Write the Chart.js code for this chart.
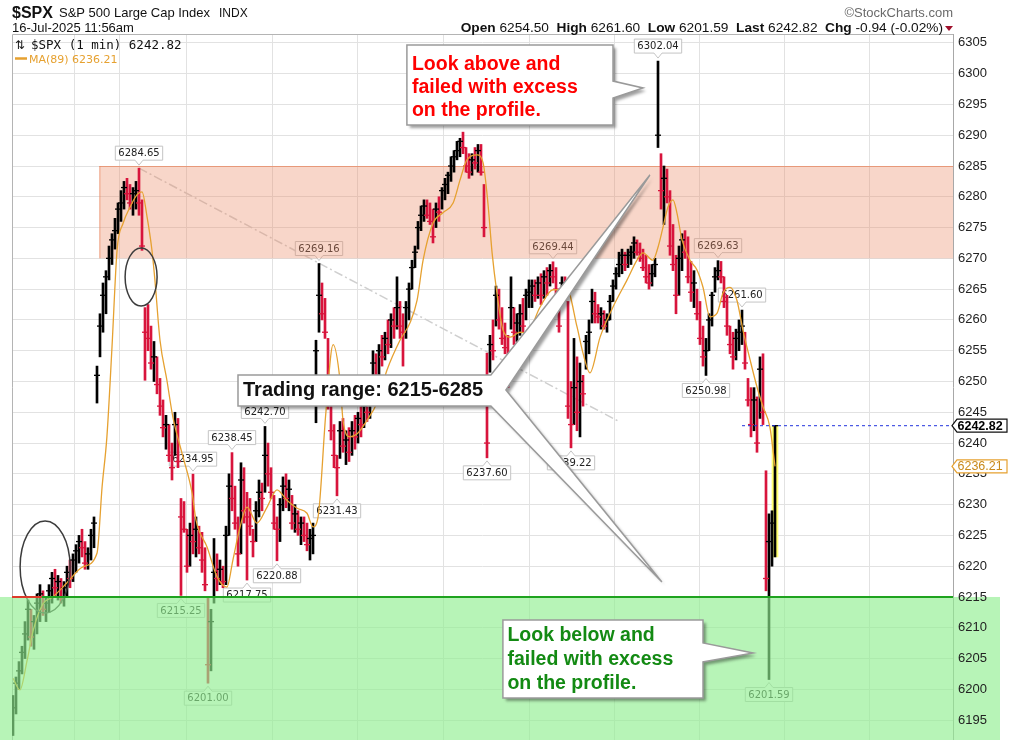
<!DOCTYPE html>
<html>
<head>
<meta charset="utf-8">
<script src="https://cdn.jsdelivr.net/npm/chart.js@4.4.1/dist/chart.umd.min.js"></script>
<style>
  html, body { margin: 0; padding: 0; background: #fff; overflow: hidden; }
</style>
</head>
<body>
<canvas id="spx" width="1026" height="740"></canvas>
<script>
// 1-minute bars (one bar per index)
const lows = [
  6192.5, 6196, 6200, 6202.5, 6205, 6208, 6207, 6206.5, 6209, 6211,
  6212, 6211, 6212.5, 6214, 6215, 6214.5, 6214, 6213.5, 6215, 6216.5,
  6217.5, 6219, 6220.5, 6221.5, 6219.5, 6219.5, 6221, 6223, 6246.5, 6254,
  6258, 6261, 6266.5, 6269, 6271.5, 6274, 6276, 6278, 6279.5, 6278,
  6277, 6278, 6277, 6271.3, 6250.2, 6255, 6252, 6250, 6248, 6244.5,
  6241, 6239, 6237, 6234, 6238, 6236, 6215.25, 6225.5, 6219, 6220,
  6222, 6221.5, 6222, 6219, 6216, 6201, 6203, 6214, 6216, 6217,
  6216.5, 6217, 6225, 6229, 6226, 6220, 6222, 6227, 6217.75, 6225,
  6221.5, 6224, 6228, 6229, 6232, 6233, 6231, 6226, 6220.88, 6224,
  6229, 6229.5, 6229, 6226, 6225.5, 6225, 6223.5, 6224, 6222.5, 6221,
  6222, 6243.3, 6258, 6260, 6257, 6245.5, 6240.5, 6236, 6231.43, 6237.5,
  6238.5, 6236.5, 6237, 6238, 6239, 6240, 6241, 6242.5, 6243.5, 6244,
  6250, 6249, 6251, 6252.5, 6253.5, 6254.5, 6255.5, 6257, 6258.5, 6257,
  6252.5, 6257, 6260, 6265, 6268.5, 6271.5, 6274.5, 6276, 6276.5, 6275.5,
  6272.5, 6275, 6276, 6278, 6279.5, 6280.5, 6282.5, 6284, 6286, 6286.5,
  6287, 6284, 6283, 6283.5, 6284.5, 6284, 6283.5, 6273.5, 6237.6, 6251.5,
  6253.5, 6259, 6258.5, 6256, 6254.5, 6249, 6258.5, 6256, 6256.5, 6257.5,
  6258, 6260, 6262, 6262, 6263, 6263.5, 6262.5, 6263.5, 6264, 6265.5,
  6266, 6264, 6258, 6264, 6263, 6244, 6239.22, 6243, 6242, 6241,
  6246, 6252, 6254.5, 6259.5, 6259.5, 6259.5, 6258.5, 6258.5, 6258, 6260,
  6263, 6265, 6267, 6267.5, 6268, 6268.5, 6269, 6270, 6270.5, 6269.5,
  6268, 6266, 6265, 6265.5, 6267, 6288, 6278, 6275.5, 6279, 6270.5,
  6268, 6261, 6264, 6268, 6270, 6266, 6263, 6262, 6260, 6256,
  6252.5, 6250.98, 6255, 6259, 6264.5, 6266.5, 6266, 6262, 6257.5, 6254.5,
  6252, 6253.5, 6255, 6256, 6252, 6246, 6241, 6242, 6238.5, 6244,
  6243, 6216, 6201.59, 6220, 6221.5
];
const highs = [
  6199, 6202, 6204.5, 6207, 6211, 6214.5, 6213, 6212, 6215.5, 6217,
  6216, 6215, 6217, 6219, 6219.5, 6218.5, 6218, 6217.5, 6220, 6221,
  6222, 6223.5, 6225, 6226, 6224, 6223, 6226, 6228, 6252.5, 6261,
  6266, 6268, 6272, 6274, 6276.5, 6279, 6281, 6282.5, 6283, 6282,
  6281.5, 6282.5, 6284.65, 6279.5, 6262, 6262.5, 6259, 6256.5, 6254, 6250.5,
  6247, 6244.5, 6243, 6240, 6245, 6244, 6231, 6230.5, 6226, 6227,
  6234.95, 6228, 6226.5, 6225.5, 6223, 6215, 6213, 6224.5, 6222, 6221,
  6220, 6226.5, 6235, 6238.45, 6233, 6228, 6236.8, 6236, 6232, 6231,
  6226, 6230.5, 6234, 6233.5, 6242.7, 6240, 6236, 6231.5, 6228, 6231,
  6234.5, 6235, 6234, 6231.5, 6230, 6229, 6228, 6228, 6227, 6226,
  6227, 6256.7, 6269.16, 6266, 6263.5, 6257, 6246, 6243, 6238, 6243.5,
  6244, 6242, 6242.5, 6243.5, 6244.5, 6245, 6246, 6247, 6248, 6249,
  6255, 6254.5, 6256, 6257.5, 6258, 6260, 6261, 6262, 6267, 6263,
  6261, 6263, 6266, 6269.7, 6272, 6276, 6278.5, 6279.5, 6279.5, 6279,
  6278, 6279, 6280, 6281.5, 6283, 6284, 6286.5, 6287.5, 6289, 6289.5,
  6290.5, 6288, 6287, 6287, 6288, 6288.5, 6288.5, 6282, 6254.6, 6257.5,
  6260, 6265.5, 6265, 6262, 6259.5, 6257.5, 6267, 6262, 6261, 6262.5,
  6263.5, 6265, 6266.5, 6266.5, 6266.5, 6267, 6267.5, 6268, 6268.5, 6269,
  6269.44, 6268.5, 6263, 6267, 6267, 6263, 6250, 6257, 6254, 6253,
  6251, 6257.5, 6260, 6265, 6264.5, 6262.5, 6262, 6261.5, 6261, 6264,
  6266.5, 6268.5, 6271, 6271.5, 6271, 6271.5, 6272, 6273.5, 6273, 6272.5,
  6271.5, 6270.5, 6269, 6269, 6270, 6302.04, 6287, 6285, 6284.5, 6281,
  6275.5, 6270.5, 6272, 6274, 6274.5, 6273.5, 6269.5, 6268, 6265, 6263,
  6259, 6257, 6261, 6264.5, 6268.5, 6269.63, 6269.5, 6267, 6264, 6259,
  6258, 6258.5, 6260, 6261.6, 6258, 6250.5, 6249, 6249, 6247.5, 6254,
  6254.5, 6235.5, 6228.5, 6229, 6242.82
];
const closes = [
  6197, 6201, 6203, 6206, 6209, 6213, 6208.5, 6211, 6214, 6215.5,
  6213, 6214, 6216, 6218, 6216.5, 6217.5, 6215, 6216.5, 6219, 6218,
  6221, 6222.5, 6224, 6223, 6220.5, 6222, 6225, 6227, 6251, 6259,
  6264, 6267, 6270, 6273, 6274.5, 6278, 6279, 6281.5, 6280.5, 6279,
  6280.5, 6281, 6279, 6272, 6258, 6257, 6253, 6254, 6249.5, 6246,
  6242.5, 6243, 6238, 6236, 6243, 6237, 6228, 6226, 6220, 6225,
  6224, 6226, 6223, 6221, 6217, 6204, 6211, 6219, 6218, 6219.5,
  6217.5, 6225, 6233, 6231, 6227, 6222, 6234, 6229, 6228, 6226.5,
  6224, 6229, 6232, 6231, 6238, 6235, 6232, 6227, 6226, 6230,
  6233, 6231, 6232.5, 6227, 6228.5, 6226, 6227, 6225, 6223.5, 6224.5,
  6225, 6255, 6264, 6261, 6258, 6247, 6242, 6238, 6236, 6242,
  6239.5, 6240.5, 6238.5, 6242, 6241, 6244, 6243, 6246, 6245, 6248,
  6253, 6251, 6255, 6254, 6257, 6256, 6260, 6259, 6262, 6259,
  6258, 6262, 6265, 6268.5, 6271, 6275, 6277, 6278.5, 6277, 6276,
  6273.5, 6278, 6277.5, 6281, 6282, 6283.5, 6285, 6286.5, 6287.5, 6289,
  6288, 6285, 6284, 6286, 6285.5, 6287.5, 6284, 6275, 6240, 6256,
  6255, 6264, 6260, 6257, 6255.5, 6251, 6262, 6258, 6259.5, 6261,
  6259, 6264, 6264.5, 6265.5, 6264, 6266, 6264, 6267, 6266, 6268,
  6267, 6265, 6259, 6266, 6264, 6246, 6243, 6249, 6245, 6250,
  6248, 6256.5, 6258, 6263, 6261, 6260.5, 6261, 6259, 6260, 6263,
  6265.5, 6267.5, 6269, 6270.5, 6269, 6270.5, 6271, 6272.5, 6271, 6270,
  6268.5, 6267, 6266, 6267.5, 6269, 6290, 6281, 6283, 6280, 6272,
  6269, 6264, 6270, 6273, 6271, 6267, 6264.5, 6266, 6261, 6257,
  6254, 6255, 6260, 6264, 6267, 6268, 6267, 6263, 6259, 6256,
  6254, 6257, 6258, 6259, 6253, 6247, 6243, 6247, 6240, 6252,
  6245, 6218, 6224, 6227, 6242.82
];

// MA(89) (bar index, value)
const maX = [0, 2.3, 4.7, 6.7, 10, 13.3, 18, 23.3, 28, 29.7, 31.3, 33, 34.7, 36.7, 39, 41.3, 43, 44.7, 46.3, 47.3,
  49, 51.3, 53.3, 56.3, 59.7, 61, 64.7, 68, 71.3, 73.3, 75.7, 78, 81.3, 84.7, 88, 91.3, 94.7, 98, 100, 101.7,
  104.3, 106.7, 109, 110, 112.3, 114.7, 118, 121.3, 124.7, 129, 132.3, 134.7, 136.7, 140, 143.3, 146.7, 149, 151.3, 154.7, 156.7,
  158.3, 159.7, 161.3, 163.3, 165.7, 169, 171.3, 175.7, 180, 184.7, 188, 190, 192.3, 195.7, 200, 204.7, 208, 210, 213.3, 215,
  216.7, 218.3, 220, 221.3, 223, 225.7, 228, 230, 232.3, 234.7, 236.7, 239, 241.3, 243.3, 245.7, 248, 250, 252.3, 254];
const maY = [6201.8, 6199.9, 6204.7, 6209.5, 6213.9, 6215, 6217.3, 6219.9, 6222.1, 6232.9, 6241, 6255.6, 6271.4, 6275.7, 6278.3, 6280.3, 6280.8, 6276.7, 6271.4, 6266.5,
  6256.7, 6250.2, 6244.2, 6238.4, 6231.9, 6227.5, 6223.1, 6218.3, 6216.6, 6221, 6226.4, 6229.6, 6227, 6229.6, 6232.4, 6230.7, 6229.4, 6228.6, 6226.4, 6228,
  6245, 6256, 6250.2, 6243.7, 6241, 6241.5, 6243.7, 6246.5, 6251.9, 6256.7, 6259.5, 6263.2, 6269.7, 6275.7, 6277.4, 6279, 6282.7, 6286, 6286.8, 6285.5,
  6279, 6270.9, 6264.4, 6258.4, 6257.2, 6258, 6257.9, 6262.1, 6264.9, 6264.9, 6258.9, 6254.6, 6251.4, 6257.2, 6262.1, 6266.5, 6269.7, 6270.9, 6269.7, 6271.8,
  6275.1, 6278.3, 6279.5, 6277.4, 6273, 6269.7, 6268.1, 6265.3, 6260.5, 6261.1, 6264.4, 6265.3, 6263.2, 6258.4, 6253.5, 6249.1, 6245.9, 6242.6, 6236.21];

const yTicks = [6195, 6200, 6205, 6210, 6215, 6220, 6225, 6230, 6235, 6240, 6245, 6250, 6255,
  6260, 6265, 6270, 6275, 6280, 6285, 6290, 6295, 6300, 6305];
const timeGrid = [28, 43.33, 72.33, 100.67, 129.33, 158, 186.33, 214.67, 243, 271.33, 300];

// labelled swing highs / lows (bar indices)
const tagHi = [42, 60, 73, 84, 102, 180, 215, 235, 243];
const tagLo = [56, 65, 78, 88, 108, 158, 186, 231, 252];

const support = 6215;
const resistance = 6285;
const resistanceLow = 6270;

const statNames = ['Open', 'High', 'Low', 'Last', 'Chg'];
const statValues = ['6254.50', '6261.60', '6201.59', '6242.82', '-0.94 (-0.02%)'];

const upColor = '#000000';
const downColor = '#d8143c';
const maColor = '#e6a130';
const barColors = closes.map((c, i) => (i === 0 || c >= closes[i - 1]) ? upColor : downColor);
const last = closes.length - 1;

// annotation shapes, in (bar index, price)
const callouts = [
  {
    outline: [[131.3, 6304.65], [200, 6304.65], [200, 6298.8], [210, 6297.67], [200, 6296.04], [200, 6291.66], [131.3, 6291.66]],
    lines: ['Look above and', 'failed with excess', 'on the profile.'],
    color: '#ff0000', size: 19.5, dx: 5, dy: 24.5, lh: 23.3
  },
  {
    outline: [[75, 6251.05], [159.3, 6251.05], [212.3, 6283.54], [164.3, 6248.62], [216.3, 6217.43], [159.3, 6246.02], [75, 6246.02]],
    lines: ['Trading range: ' + support + '-' + resistance],
    color: '#111111', size: 20, dx: 5, dy: 21, lh: 0
  },
  {
    outline: [[163.3, 6211.26], [230, 6211.26], [230, 6207.53], [246.7, 6205.9], [230, 6204.44], [230, 6198.59], [163.3, 6198.59]],
    lines: ['Look below and', 'failed with excess', 'on the profile.'],
    color: '#138a13', size: 19.5, dx: 4.5, dy: 20.5, lh: 24
  }
];
const ellipses = [
  { i: 42.7, p: 6266.97, ri: 5.33, rp: 4.71 },
  { i: 10.7, p: 6219.87, ri: 8.33, rp: 7.47 }
];
const trendEnd = { i: 202.3, p: 6243.42 };

function valueTag(c, X, Y, i, v, above) {
  const x = X.getPixelForValue(i);
  const yv = Y.getPixelForValue(v);
  const txt = v.toFixed(2);
  c.font = '10px "DejaVu Sans"';
  const w = c.measureText(txt).width + 6, h = 14;
  const tip = above ? yv - 3 : yv + 3;
  const top = above ? tip - 5 - h : tip + 5;
  const L = x - w / 2, R = x + w / 2;
  c.beginPath();
  if (above) {
    c.moveTo(L, top); c.lineTo(R, top); c.lineTo(R, top + h); c.lineTo(x + 4, top + h);
    c.lineTo(x, tip); c.lineTo(x - 4, top + h); c.lineTo(L, top + h);
  } else {
    c.moveTo(L, top); c.lineTo(x - 4, top); c.lineTo(x, tip); c.lineTo(x + 4, top);
    c.lineTo(R, top); c.lineTo(R, top + h); c.lineTo(L, top + h);
  }
  c.closePath();
  c.fillStyle = 'rgba(255,255,255,0.92)';
  c.fill();
  c.strokeStyle = '#c4c4c4';
  c.lineWidth = 1;
  c.stroke();
  c.fillStyle = '#222';
  c.textAlign = 'center';
  c.textBaseline = 'middle';
  c.fillText(txt, x, top + h / 2 + 0.5);
}

const overlay = {
  id: 'overlay',
  beforeDatasetsDraw(chart) {
    const c = chart.ctx, X = chart.scales.x, Y = chart.scales.y, a = chart.chartArea;
    c.save();
    // frame
    c.strokeStyle = '#b4b4b4';
    c.lineWidth = 1;
    c.beginPath();
    c.moveTo(a.left + 0.5, a.bottom); c.lineTo(a.left + 0.5, a.top + 0.5); c.lineTo(a.right, a.top + 0.5);
    c.stroke();
    // dash-dot trend line from the first high
    c.strokeStyle = '#cfcfcf';
    c.lineWidth = 1.5;
    c.setLineDash([9, 3, 2, 3]);
    c.beginPath();
    c.moveTo(X.getPixelForValue(42), Y.getPixelForValue(highs[42]));
    c.lineTo(X.getPixelForValue(trendEnd.i), Y.getPixelForValue(trendEnd.p));
    c.stroke();
    c.setLineDash([]);
    // price tags on swings
    tagHi.forEach(i => valueTag(c, X, Y, i, highs[i], true));
    tagLo.forEach(i => valueTag(c, X, Y, i, lows[i], false));
    // resistance band
    const x0 = X.getPixelForValue(28.8);
    const t = Y.getPixelForValue(resistance), b = Y.getPixelForValue(resistanceLow);
    c.fillStyle = 'rgba(235,140,105,0.36)';
    c.fillRect(x0, t, a.right - x0, b - t);
    c.strokeStyle = 'rgba(232,130,90,0.65)';
    c.lineWidth = 1;
    c.beginPath();
    c.moveTo(x0, t + 0.5); c.lineTo(a.right, t + 0.5);
    c.moveTo(x0 + 0.5, t); c.lineTo(x0 + 0.5, b);
    c.stroke();
    c.restore();
  },
  afterDatasetsDraw(chart) {
    const c = chart.ctx, X = chart.scales.x, Y = chart.scales.y, a = chart.chartArea;
    c.save();
    // ellipses
    c.strokeStyle = '#3c3c3c';
    c.lineWidth = 1.5;
    ellipses.forEach(e => {
      const cx = X.getPixelForValue(e.i), cy = Y.getPixelForValue(e.p);
      const rx = X.getPixelForValue(e.i + e.ri) - cx, ry = cy - Y.getPixelForValue(e.p + e.rp);
      c.beginPath();
      c.ellipse(cx, cy, rx, ry, 0, 0, Math.PI * 2);
      c.stroke();
    });
    // last price dashed line
    const yl = Y.getPixelForValue(closes[last]);
    c.strokeStyle = '#2233dd';
    c.lineWidth = 1;
    c.setLineDash([3, 3]);
    c.beginPath();
    c.moveTo(X.getPixelForValue(243), yl); c.lineTo(a.right, yl);
    c.stroke();
    c.setLineDash([]);
    // support zone
    const ys = Y.getPixelForValue(support);
    c.fillStyle = 'rgba(144,238,144,0.65)';
    c.fillRect(0, ys, 1000, a.bottom - ys);
    c.lineWidth = 2;
    c.strokeStyle = '#dd3a2a';
    c.beginPath(); c.moveTo(a.left, ys); c.lineTo(X.getPixelForValue(9.6), ys); c.stroke();
    c.strokeStyle = '#1fa31f';
    c.beginPath(); c.moveTo(X.getPixelForValue(9.6), ys); c.lineTo(a.right, ys); c.stroke();
    // callouts
    callouts.forEach(co => {
      const pts = co.outline.map(p => [X.getPixelForValue(p[0]), Y.getPixelForValue(p[1])]);
      c.beginPath();
      pts.forEach((p, k) => k ? c.lineTo(p[0], p[1]) : c.moveTo(p[0], p[1]));
      c.closePath();
      c.save();
      c.shadowColor = 'rgba(0,0,0,0.38)';
      c.shadowOffsetX = 3;
      c.shadowOffsetY = 3;
      c.shadowBlur = 3;
      c.fillStyle = '#ffffff';
      c.fill();
      c.restore();
      c.strokeStyle = '#9a9a9a';
      c.lineWidth = 1.5;
      c.stroke();
      c.fillStyle = co.color;
      c.font = 'bold ' + co.size + 'px "Liberation Sans", Arial, sans-serif';
      c.textAlign = 'left';
      c.textBaseline = 'alphabetic';
      co.lines.forEach((s, k) => c.fillText(s, pts[0][0] + co.dx, pts[0][1] + co.dy + k * co.lh));
    });
    c.restore();
  },
  afterDraw(chart) {
    const c = chart.ctx, Y = chart.scales.y, a = chart.chartArea;
    c.save();
    c.textBaseline = 'alphabetic';
    c.textAlign = 'left';
    // title block
    c.fillStyle = '#111';
    c.font = 'bold 16px "Liberation Sans", Arial';
    c.fillText('$SPX', 12, 18);
    c.font = '13px "Liberation Sans", Arial';
    c.fillText('S&P 500 Large Cap Index', 59, 17);
    c.font = '12px "Liberation Sans", Arial';
    c.fillText('INDX', 219, 17);
    c.font = '13px "Liberation Sans", Arial';
    c.fillText('16-Jul-2025 11:56am', 12, 32);
    c.fillStyle = '#6a6a6a';
    c.textAlign = 'right';
    c.fillText('\u00a9StockCharts.com', 953, 17);
    // stats line
    c.textAlign = 'left';
    const parts = [];
    statNames.forEach((n, k) => {
      parts.push({ s: n, f: 'bold 13.7px "Liberation Sans", Arial' });
      parts.push({ s: ' ' + statValues[k] + (k < statNames.length - 1 ? '  ' : ''), f: '13.7px "Liberation Sans", Arial' });
    });
    let total = 0;
    parts.forEach(p => { c.font = p.f; p.w = c.measureText(p.s).width; total += p.w; });
    let xx = 943 - total;
    c.fillStyle = '#111';
    parts.forEach(p => { c.font = p.f; c.fillText(p.s, xx, 32); xx += p.w; });
    c.fillStyle = '#a0102c';
    c.beginPath(); c.moveTo(945, 26); c.lineTo(953, 26); c.lineTo(949, 31); c.closePath(); c.fill();
    // in-chart legend
    c.fillStyle = '#111';
    c.font = '12px "DejaVu Sans"';
    c.fillText('\u21c5', 15, 49);
    c.font = '12.5px "DejaVu Sans Mono"';
    c.fillText('$SPX (1 min) ' + closes[last].toFixed(2), 31, 49);
    c.strokeStyle = maColor;
    c.lineWidth = 2.5;
    c.beginPath(); c.moveTo(15, 58.5); c.lineTo(27, 58.5); c.stroke();
    c.fillStyle = maColor;
    c.font = '11px "DejaVu Sans"';
    c.fillText('MA(89) ' + maY[maY.length - 1].toFixed(2), 29, 63);
    // right-hand price tags
    const tag = (v, txt, font, stroke, fill) => {
      const y = Y.getPixelForValue(v);
      c.beginPath();
      c.moveTo(a.right - 1, y); c.lineTo(a.right + 4, y - 6.5); c.lineTo(1007, y - 6.5);
      c.lineTo(1007, y + 6.5); c.lineTo(a.right + 4, y + 6.5); c.closePath();
      c.fillStyle = '#fff'; c.fill();
      c.strokeStyle = stroke; c.lineWidth = 1.2; c.stroke();
      c.fillStyle = fill; c.font = font; c.textBaseline = 'middle';
      c.fillText(txt, a.right + 4.5, y + 0.5);
    };
    tag(closes[last], closes[last].toFixed(2), 'bold 12.5px "Liberation Sans", Arial', '#111', '#000');
    tag(maY[maY.length - 1], maY[maY.length - 1].toFixed(2), '12.5px "Liberation Sans", Arial', maColor, '#c98a1c');
    c.restore();
  }
};

Chart.defaults.font.family = '"Liberation Sans", Arial, sans-serif';

const ctx = document.getElementById('spx').getContext('2d');
const spxChart = new Chart(ctx, {
  type: 'bar',
  data: {
    datasets: [
      {
        // highlight behind the current bar
        type: 'bar',
        data: [{ x: last, y: [lows[last], highs[last]] }],
        backgroundColor: '#ffff70',
        barThickness: 6,
        grouped: false,
        order: 4
      },
      {
        type: 'bar',
        label: '$SPX',
        data: lows.map((l, i) => ({ x: i, y: [l, highs[i]] })),
        backgroundColor: barColors,
        borderWidth: 0,
        barThickness: 2,
        grouped: false,
        order: 3
      },
      {
        type: 'scatter',
        label: 'close',
        data: closes.map((v, i) => ({ x: i, y: v })),
        pointStyle: 'line',
        pointRadius: 3,
        pointBorderWidth: 1.3,
        pointBorderColor: barColors,
        pointBackgroundColor: barColors,
        showLine: false,
        order: 2
      },
      {
        type: 'line',
        label: 'MA(89)',
        data: maX.map((x, k) => ({ x: x, y: maY[k] })),
        borderColor: maColor,
        borderWidth: 1.3,
        pointRadius: 0,
        cubicInterpolationMode: 'monotone',
        fill: false,
        order: 1
      }
    ]
  },
  options: {
    responsive: false,
    animation: false,
    events: [],
    layout: { autoPadding: false, padding: { left: 12, top: 34, right: 0, bottom: 0 } },
    plugins: { legend: { display: false }, tooltip: { enabled: false } },
    scales: {
      x: {
        type: 'linear',
        min: -0.3333,
        max: 313.3333,
        offset: false,
        grid: { color: '#e2e2e2', drawTicks: false },
        border: { display: false },
        ticks: { display: false },
        afterBuildTicks: s => { s.ticks = timeGrid.map(v => ({ value: v })); },
        afterFit: s => { s.height = 0; s.paddingLeft = 0; s.paddingRight = 0; }
      },
      y: {
        position: 'right',
        min: 6191.77,
        max: 6306.44,
        grid: { color: '#e2e2e2', drawTicks: false },
        border: { color: '#a8a8a8' },
        ticks: { z: 1, padding: 5, color: '#222', font: { size: 13 }, callback: v => String(v) },
        afterBuildTicks: s => { s.ticks = yTicks.map(v => ({ value: v })); },
        afterFit: s => { s.width = 73; s.paddingTop = 0; s.paddingBottom = 0; }
      }
    }
  },
  plugins: [overlay]
});
</script>
</body>
</html>
